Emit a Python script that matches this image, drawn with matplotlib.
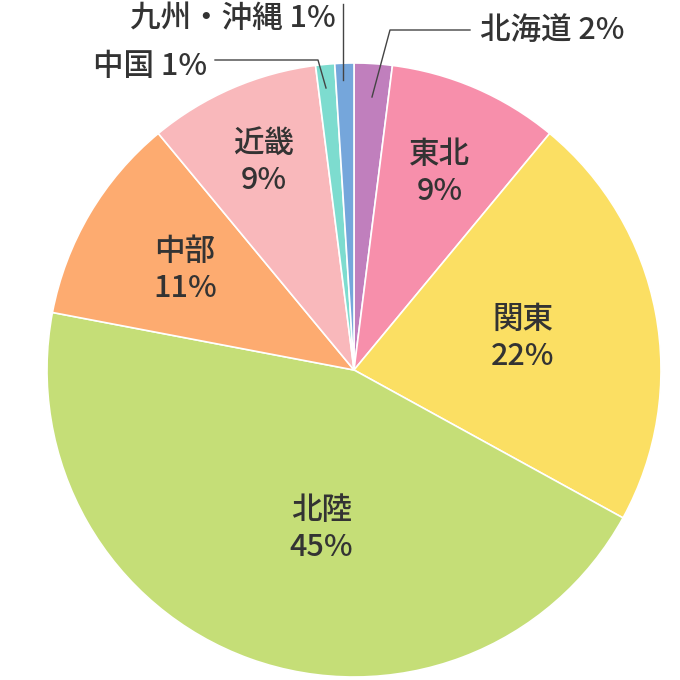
import matplotlib
matplotlib.use("Agg")
import matplotlib.pyplot as plt
import numpy as np

plt.rcParams['font.family'] = ['Noto Sans CJK JP', 'DejaVu Sans']

regions = ['北海道', '東北', '関東', '北陸', '中部', '近畿', '中国', '九州・沖縄']
shares = [2, 9, 22, 45, 11, 9, 1, 1]
colors = ['#c07fbd', '#f78fab', '#fbdf63', '#c5de77', '#fdab70', '#f9b8bb', '#7ddccf', '#75a6db']
inner_r = [None, 0.70, 0.56, 0.55, 0.64, 0.74, None, None]

fig = plt.figure(figsize=(6.8, 6.8), dpi=100)
cx, cy, R = 354, 370, 307
ax = fig.add_axes([(cx - R) / 680, 1 - (cy + R) / 680, 2 * R / 680, 2 * R / 680])
wedges, _ = ax.pie(shares, colors=colors, startangle=90, counterclock=False,
                   wedgeprops=dict(linewidth=1.2, edgecolor='white'))
ax.set_xlim(-1, 1); ax.set_ylim(-1, 1)
ax.set_aspect('equal')
ax.axis('off')

tc = '#333333'
for w, name, s, r in zip(wedges, regions, shares, inner_r):
    if r is None:
        continue
    a = np.deg2rad((w.theta1 + w.theta2) / 2)
    x, y = r * np.cos(a), r * np.sin(a)
    if name == '北陸':
        x += 0.08
    ax.text(x, y, f'{name}\n{s}%', ha='center', va='center',
            fontsize=22, color=tc, linespacing=1.25, weight='medium')

def p(px, py):
    return ((px - cx) / R, (cy - py) / R)

def line(pts):
    xs, ys = zip(*[p(*q) for q in pts])
    ax.plot(xs, ys, color='#444444', lw=1, clip_on=False)

line([(372, 97), (390, 30), (470, 30)])
ax.text(*p(480, 30), f'{regions[0]} {shares[0]}%', ha='left', va='center', fontsize=22, color=tc, weight='medium')
line([(215, 60), (318, 60), (326, 88)])
ax.text(*p(207, 66), f'{regions[6]} {shares[6]}%', ha='right', va='center', fontsize=22, color=tc, weight='medium')
line([(343, 4), (343, 80)])
ax.text(*p(336, 18), f'{regions[7]} {shares[7]}%', ha='right', va='center', fontsize=22, color=tc, weight='medium')

fig.savefig('out.png', dpi=100)
